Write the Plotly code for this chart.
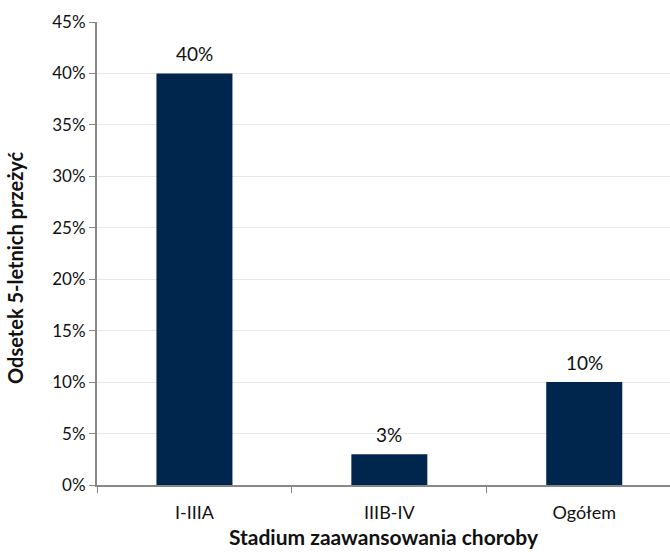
import plotly.graph_objects as go

categories = ["I-IIIA", "IIIB-IV", "Ogółem"]
values = [0.40, 0.03, 0.10]
labels = ["40%", "3%", "10%"]

FONT = "Lato"
fig = go.Figure(go.Bar(
    x=categories, y=values,
    marker=dict(color="#00264d", line=dict(width=0)),
    width=0.39,
))
for c, v, t in zip(categories, values, labels):
    fig.add_annotation(x=c, y=v, text=t, showarrow=False, yanchor="bottom",
                       yshift=6, font=dict(family=FONT, size=19, color="#111"))
fig.add_annotation(xref="paper", yref="paper", x=-0.143, y=0.469,
                   text="<b>Odsetek 5-letnich przeżyć</b>", textangle=-90,
                   showarrow=False, xanchor="center", yanchor="middle",
                   font=dict(family=FONT, size=20, color="#111"))
fig.update_layout(
    width=670, height=552,
    margin=dict(l=97, r=0, t=22, b=67),
    paper_bgcolor="white", plot_bgcolor="white",
    showlegend=False,
    font=dict(family=FONT, size=16, color="#111"),
    xaxis=dict(
        range=[-0.5, 2.44], showline=True, linecolor="#888", linewidth=2,
        ticks="outside", tickson="boundaries", ticklen=6, tickcolor="#888",
        ticklabelstandoff=10,
        tickfont=dict(size=18), title=dict(text="<b>Stadium zaawansowania choroby</b>",
        font=dict(size=21), standoff=9),
    ),
    yaxis=dict(
        range=[0, 0.45], dtick=0.05, tickformat=".0%", showline=True,
        linecolor="#888", linewidth=2, ticks="outside", ticklen=6, tickcolor="#888",
        gridcolor="#e8e8e8", gridwidth=1, zeroline=False,
        tickfont=dict(size=17),
    ),
)
fig.write_html("out.html")
